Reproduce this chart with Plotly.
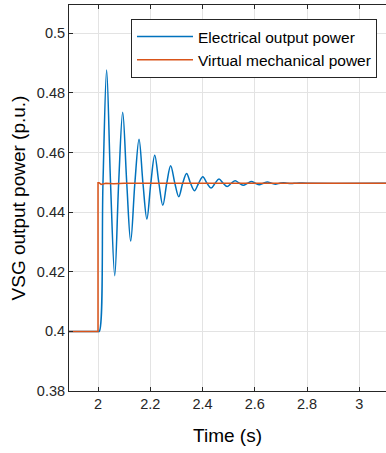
import plotly.graph_objects as go

# ---- data ----
t_elec = [1.889, 2.000, 2.005, 2.019, 2.033, 2.048, 2.064, 2.079, 2.0945, 2.110,
          2.125, 2.141, 2.157, 2.172, 2.187, 2.202, 2.217, 2.233, 2.248, 2.263,
          2.278, 2.294, 2.309, 2.324, 2.339, 2.354, 2.369, 2.385, 2.401, 2.417,
          2.433, 2.448, 2.463, 2.479, 2.494, 2.510, 2.525, 2.541, 2.556, 2.572,
          2.587, 2.602, 2.617, 2.633, 2.648, 2.664, 2.679, 2.695, 2.710, 2.725,
          2.740, 2.755, 2.770, 2.800, 3.120]
p_elec = [0.4000, 0.4000, 0.4000, 0.4497, 0.4877, 0.4497, 0.4187, 0.4497, 0.4735, 0.4497,
          0.4303, 0.4497, 0.4645, 0.4497, 0.4377, 0.4497, 0.4591, 0.4497, 0.4423, 0.4497,
          0.4556, 0.4497, 0.4452, 0.4497, 0.4530, 0.4497, 0.4472, 0.4497, 0.4519, 0.4497,
          0.4481, 0.4497, 0.4511, 0.4497, 0.4486, 0.4497, 0.4505, 0.4497, 0.4490, 0.4497,
          0.4503, 0.4497, 0.4492, 0.4497, 0.4501, 0.4497, 0.4494, 0.4497, 0.4499, 0.4497,
          0.4496, 0.4497, 0.4498, 0.4497, 0.4497]

t_mech = [1.889, 2.000, 2.000, 2.004, 2.012, 2.030, 2.060, 2.100, 3.120]
p_mech = [0.4000, 0.4000, 0.4499, 0.4499, 0.4493, 0.4497, 0.4495, 0.4497, 0.4497]

x_ticks = [2, 2.2, 2.4, 2.6, 2.8, 3]
x_ticklabels = ["2", "2.2", "2.4", "2.6", "2.8", "3"]
y_ticks = [0.38, 0.40, 0.42, 0.44, 0.46, 0.48, 0.50]
y_ticklabels = ["0.38", "0.4", "0.42", "0.44", "0.46", "0.48", "0.5"]

AX = "#262626"
FONT = "Liberation Sans, Arial, sans-serif"

fig = go.Figure()
fig.add_trace(go.Scatter(x=t_elec, y=p_elec, mode="lines",
                         name="Electrical output power",
                         line=dict(color="#0072BD", width=1.5, shape="spline")))
fig.add_trace(go.Scatter(x=t_mech, y=p_mech, mode="lines",
                         name="Virtual mechanical power",
                         line=dict(color="#D95319", width=1.5)))

fig.update_layout(
    width=386, height=453,
    margin=dict(l=69, r=0, t=5, b=62),
    paper_bgcolor="white", plot_bgcolor="white",
    font=dict(family=FONT, color=AX),
    showlegend=True,
    legend=dict(x=0.1956, xanchor="left", y=0.9637, yanchor="top",
                bgcolor="white", bordercolor=AX, borderwidth=1,
                font=dict(size=15.5, family=FONT, color="black"),
                itemwidth=56, tracegroupgap=0),
)
fig.update_xaxes(range=[1.889, 3.102], tickvals=x_ticks, ticktext=x_ticklabels,
                 showline=True, linecolor=AX, linewidth=1, mirror="ticks",
                 ticks="inside", ticklen=4, tickcolor=AX,
                 showgrid=True, gridcolor="#e3e3e3", gridwidth=1, zeroline=False,
                 tickfont=dict(size=14.5, family=FONT, color=AX),
                 title=dict(text="Time (s)", font=dict(size=19, family=FONT, color="black"),
                            standoff=17))
fig.update_yaxes(range=[0.38, 0.5095], tickvals=y_ticks, ticktext=y_ticklabels,
                 showline=True, linecolor=AX, linewidth=1, mirror=False,
                 ticks="inside", ticklen=4, tickcolor=AX,
                 showgrid=True, gridcolor="#e3e3e3", gridwidth=1, zeroline=False,
                 tickfont=dict(size=14.5, family=FONT, color=AX),
                 title=dict(text="VSG output power (p.u.)",
                            font=dict(size=19, family=FONT, color="black"),
                            standoff=6))

fig.write_html("out.html")
